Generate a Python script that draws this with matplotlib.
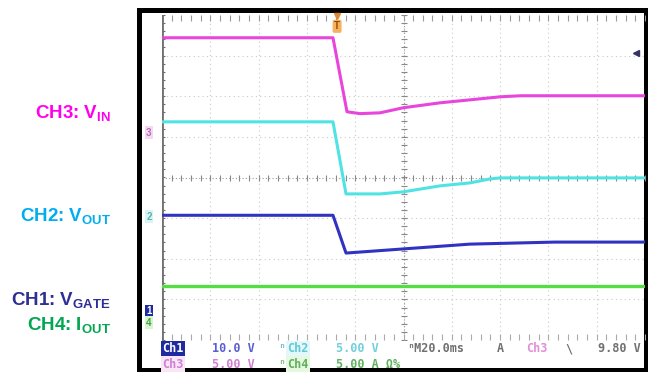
import numpy as np
import matplotlib.pyplot as plt
from matplotlib.patches import Rectangle
from matplotlib.transforms import blended_transform_factory

plt.rcParams['font.family'] = ['Liberation Sans', 'DejaVu Sans']
plt.rcParams['mathtext.fontset'] = 'custom'
plt.rcParams['mathtext.bf'] = 'Liberation Sans:bold'
plt.rcParams['mathtext.rm'] = 'Liberation Sans:bold'

# time axis: 20 ms/div, trigger at 0
t_ms_per_div = 20.0
t_left = -72.5

# CH3 V_IN (5 V/div)
t_ch3 = [-72.5, -1.7, 4.1, 9.5, 17.8, 27.3, 42.6, 55.1, 67.5, 75.8, 127.5]
v_ch3 = [11.7, 11.7, 2.59, 2.36, 2.46, 3.08, 3.69, 4.06, 4.43, 4.56, 4.56]
# CH2 V_OUT (5 V/div)
t_ch2 = [-72.5, -1.7, 3.7, 17.8, 27.3, 42.6, 55.1, 63.4, 67.5, 127.5]
v_ch2 = [11.7, 11.7, 2.83, 2.83, 3.08, 3.82, 4.19, 4.68, 4.8, 4.8]
# CH1 V_GATE (10 V/div)
t_ch1 = [-72.5, -1.7, 3.7, 27, 55, 90, 127.5]
v_ch1 = [23.6, 23.6, 14.3, 15.3, 16.5, 17.0, 17.0]
# CH4 I_OUT (5 A/div)
t_ch4 = [-72.5, 127.5]
i_ch4 = [4.55, 4.55]

# volts per division and ground marker position (divisions from centre)
scale = {'3': 5.0, '2': 5.0, '1': 10.0, '4': 5.0}
offset = {'3': 1.10, '2': -0.97, '1': -3.29, '4': -3.58}
trig_level = 9.80

trace_col = {'3': '#E845DC', '2': '#4FE3E3', '1': '#2F33C0', '4': '#55DD44'}
label_col = {'3': '#FF00EE', '2': '#00AEEF', '1': '#2E2E94', '4': '#00A651'}

fig = plt.figure(figsize=(6.5, 3.74), dpi=100)
W, H = 650, 374

def fx(px):
    return px / W

def fy(py):
    return 1 - py / H

# scope screen frame
fig.patches.append(Rectangle((fx(137), fy(372)), fx(648) - fx(137), fy(8) - fy(372),
                             transform=fig.transFigure, facecolor='black', zorder=-10))
fig.patches.append(Rectangle((fx(142), fy(368)), fx(644) - fx(142), fy(13) - fy(368),
                             transform=fig.transFigure, facecolor='white', zorder=-9))

ax = fig.add_axes([fx(162), fy(340), fx(645) - fx(162), fy(15) - fy(340)])
ax.set_zorder(5)
ax.set_xlim(t_left, t_left + 10 * t_ms_per_div)
ax.set_ylim(-4, 4)
ax.axis('off')

# graticule
for k in range(1, 10):
    x = t_left + k * t_ms_per_div
    ax.axvline(x, color='#c8c8c8', lw=0.8, ls=(0, (1, 3)), zorder=1)
for k in range(-3, 4):
    if k != 0:
        ax.axhline(k, color='#c8c8c8', lw=0.8, ls=(0, (1, 3)), zorder=1)
ax.axhline(0, color='#999999', lw=0.8, ls=(0, (1, 2)), zorder=1)
xc = t_left + 5 * t_ms_per_div
ax.axvline(xc, color='#999999', lw=0.8, ls=(0, (1, 2)), zorder=1)
xm = np.arange(t_left, t_left + 10 * t_ms_per_div + 0.1, t_ms_per_div / 5)
ym = np.arange(-4, 4.01, 0.2)
ax.plot(xm, np.zeros_like(xm), ls='none', marker='|', ms=4, color='#888888', mew=0.8, zorder=1)
ax.plot(np.full_like(ym, xc), ym, ls='none', marker='_', ms=4, color='#888888', mew=0.8, zorder=1)
ax.plot(xm, np.full_like(xm, 3.93), ls='none', marker='|', ms=4, color='#999999', mew=0.8, zorder=1)
ax.plot(xm, np.full_like(xm, -3.93), ls='none', marker='|', ms=4, color='#aaaaaa', mew=0.8, zorder=1)
ax.axvline(t_left, color='#707070', lw=2.0, zorder=1)
ax.plot(np.full_like(ym, t_left), ym, ls='none', marker='_', ms=5, color='#707070', mew=0.8, zorder=1)

# traces
def to_div(ch, v):
    return offset[ch] + np.asarray(v) / scale[ch]

ax.plot(t_ch4, to_div('4', i_ch4), color=trace_col['4'], lw=2.4, zorder=3)
ax.plot(t_ch1, to_div('1', v_ch1), color=trace_col['1'], lw=2.2, zorder=3)
ax.plot(t_ch2, to_div('2', v_ch2), color=trace_col['2'], lw=2.2, zorder=3)
ax.plot(t_ch3, to_div('3', v_ch3), color=trace_col['3'], lw=2.2, zorder=3)

# channel ground markers
tr = blended_transform_factory(ax.transAxes, ax.transData)
marker_bg = {'3': '#f6d8f3', '2': '#d6f5f5', '1': '#1f2aa0', '4': '#d8f5d0'}
marker_fg = {'3': '#b070b0', '2': '#60b0b0', '1': 'white', '4': '#40a040'}
for ch in ['3', '2', '1', '4']:
    ax.text(-0.027, offset[ch], ch, transform=tr, ha='center', va='center',
            fontsize=7, color=marker_fg[ch], fontweight='bold', clip_on=False,
            bbox=dict(boxstyle='square,pad=0.15', fc=marker_bg[ch], ec='none'))

# trigger markers
ax.text(0, 3.72, 'T', ha='center', va='center', fontsize=7, color='#9a4a00',
        fontweight='bold', clip_on=False,
        bbox=dict(boxstyle='round,pad=0.15', fc='#f5b060', ec='none'))
ax.plot([0], [3.97], marker='v', color='#e08a30', ms=5, ls='none', zorder=4, clip_on=False)
ax.plot([t_left + 9.82 * t_ms_per_div], [to_div('3', trig_level)], marker='<',
        color='#333366', ms=4, ls='none', zorder=4)

# left labels
labels = [('3', 'CH3: V$_{\\mathbf{IN}}$', 114),
          ('2', 'CH2: V$_{\\mathbf{OUT}}$', 217),
          ('1', 'CH1: V$_{\\mathbf{GATE}}$', 301),
          ('4', 'CH4: I$_{\\mathbf{OUT}}$', 326)]
for ch, s, py in labels:
    fig.text(fx(111), fy(py), s, ha='right', va='center', fontsize=13.5,
             fontweight='bold', color=label_col[ch])

# status bar
mono = ['DejaVu Sans Mono']
def status(px, py, s, col, bg=None, ha='left'):
    kw = dict(fontsize=8.5, color=col, ha=ha, va='center', family=mono,
              fontweight='bold')
    if bg:
        kw['bbox'] = dict(boxstyle='square,pad=0.1', fc=bg, ec='none')
    fig.text(fx(px), fy(py), s, **kw)

status(162, 349, 'Ch1', 'white', '#1f2aa0')
status(212, 349, '10.0 V', '#5a5fd0')
status(278, 349, 'ⁿ', '#7fb8d0')
status(287, 349, 'Ch2', '#60c8d8', '#e2f8fa')
status(336, 349, '5.00 V', '#70d0dc')
status(407, 349, 'ⁿM20.0ms', '#707070')
status(497, 349, 'A', '#707070')
status(526, 349, 'Ch3', '#e090d8')
status(565, 349, '\\', '#707070')
status(641, 349, '9.80 V', '#707070', ha='right')
status(162, 364, 'Ch3', '#d080d0', '#f8e6f6')
status(212, 364, '5.00 V', '#d080d0')
status(278, 364, 'ⁿ', '#80c080')
status(287, 364, 'Ch4', '#60b060', '#e6f8e0')
status(336, 364, '5.00 A Ω%', '#60b060')

fig.savefig('out.png', dpi=100)
